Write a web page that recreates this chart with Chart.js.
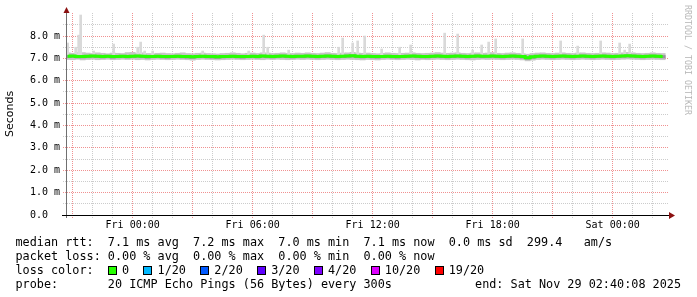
<!DOCTYPE html>
<html>
<head>
<meta charset="utf-8">
<script src="https://cdn.jsdelivr.net/npm/chart.js@4.4.1/dist/chart.umd.min.js"></script>
<style>
  html, body { margin:0; padding:0; background:#fff; }
  #wrap { position:relative; width:697px; height:297px; overflow:hidden; background:#fff; }
  canvas { position:absolute; left:0; top:0; }
  .lg { position:absolute; left:15.5px; margin:0; font-family:"DejaVu Sans Mono", monospace; font-size:11.8px; line-height:14px; color:#000; white-space:pre; }
  .bx { display:inline-block; width:7px; height:7px; border:1px solid #000; margin-right:5.2px; vertical-align:-1px; }
  #endtxt { position:absolute; right:16px; top:276.9px; font-family:"DejaVu Sans Mono", monospace; font-size:11.8px; line-height:14px; color:#000; white-space:pre; }
  #wm { position:absolute; left:693px; top:5px; transform:rotate(90deg); transform-origin:0 0; font-family:"DejaVu Sans Mono", monospace; font-size:8.3px; line-height:10px; color:#b8b8b8; white-space:pre; }
</style>
</head>
<body>
<div id="wrap">
  <canvas id="c" width="697" height="297"></canvas>
  <div id="wm">RRDTOOL / TOBI OETIKER</div>
  <div class="lg" id="legend" style="top:234.9px"></div>
  <div id="endtxt"></div>
</div>
<script>
// ---- data (hours relative to Fri 00:00; one sample per 15 min) ----
const sampleStartHour = -3.25;
const sampleStepHours = 0.25;
const medianRtt = [
7.10,7.11,7.09,7.08,7.10,7.11,7.10,7.09,7.10,7.08,7.09,7.10,
7.09,7.10,7.11,7.10,7.08,7.09,7.10,7.09,7.08,7.09,7.10,7.09,
7.08,7.07,7.09,7.10,7.09,7.08,7.07,7.08,7.09,7.10,7.09,7.08,
7.09,7.10,7.09,7.11,7.10,7.09,7.10,7.11,7.10,7.09,7.10,7.10,
7.11,7.10,7.09,7.10,7.11,7.10,7.09,7.10,7.11,7.12,7.10,7.09,
7.10,7.09,7.08,7.09,7.10,7.09,7.08,7.09,7.10,7.11,7.10,7.09,
7.09,7.10,7.11,7.10,7.09,7.10,7.11,7.10,7.09,7.10,7.11,7.10,
7.10,7.11,7.10,7.09,7.10,7.11,7.10,7.08,7.03,7.07,7.10,7.11,
7.10,7.09,7.10,7.11,7.10,7.09,7.10,7.11,7.10,7.09,7.10,7.11,
7.10,7.09,7.10,7.11,7.12,7.11,7.10,7.09,7.10,7.11,7.10,7.09];
const smokeMax = [
7.25,7.23,7.27,7.26,7.24,7.22,7.25,7.23,7.21,7.24,7.23,7.22,
7.26,7.27,7.23,7.25,7.22,7.21,7.23,7.24,7.22,7.21,7.23,7.25,
7.22,7.21,7.23,7.24,7.22,7.21,7.20,7.22,7.23,7.25,7.23,7.21,
7.23,7.24,7.22,7.25,7.24,7.22,7.23,7.25,7.23,7.22,7.24,7.23,
7.25,7.23,7.22,7.24,7.26,7.23,7.22,7.24,7.25,7.27,7.24,7.23,
7.24,7.22,7.21,7.23,7.25,7.23,7.22,7.23,7.24,7.25,7.23,7.22,
7.23,7.24,7.26,7.24,7.23,7.24,7.25,7.23,7.22,7.24,7.25,7.23,
7.24,7.26,7.23,7.22,7.24,7.25,7.23,7.21,7.19,7.22,7.24,7.25,
7.23,7.22,7.24,7.25,7.23,7.22,7.24,7.25,7.23,7.22,7.23,7.25,
7.24,7.22,7.23,7.25,7.27,7.25,7.23,7.22,7.23,7.25,7.23,7.22];
const smokeMin = [
6.95,6.94,6.96,6.93,6.95,6.96,6.94,6.95,6.96,6.94,6.95,6.96,
6.95,6.96,6.94,6.95,6.93,6.95,6.96,6.95,6.94,6.95,6.96,6.95,
6.94,6.92,6.95,6.96,6.95,6.94,6.93,6.94,6.95,6.96,6.95,6.94,
6.95,6.96,6.95,6.94,6.96,6.95,6.96,6.95,6.94,6.95,6.96,6.95,
6.96,6.95,6.94,6.95,6.96,6.95,6.94,6.95,6.96,6.95,6.94,6.93,
6.95,6.94,6.93,6.95,6.96,6.95,6.94,6.95,6.96,6.95,6.93,6.95,
6.94,6.95,6.96,6.95,6.94,6.95,6.96,6.95,6.94,6.93,6.95,6.96,
6.95,6.96,6.95,6.94,6.95,6.96,6.95,6.93,6.89,6.92,6.95,6.96,
6.95,6.94,6.95,6.96,6.95,6.94,6.95,6.96,6.95,6.94,6.95,6.96,
6.95,6.94,6.95,6.96,6.97,6.96,6.95,6.94,6.95,6.96,6.95,6.94];
const smokeQ1 = [
7.03,7.04,7.02,7.02,7.03,7.05,7.04,7.02,7.04,7.01,7.03,7.04,
7.02,7.04,7.05,7.03,7.01,7.03,7.04,7.02,7.01,7.03,7.04,7.02,
7.01,7.00,7.03,7.04,7.02,7.01,7.00,7.02,7.03,7.04,7.02,7.01,
7.03,7.04,7.02,7.05,7.03,7.02,7.04,7.05,7.03,7.02,7.04,7.03,
7.05,7.03,7.02,7.04,7.05,7.03,7.02,7.04,7.05,7.06,7.03,7.02,
7.04,7.02,7.01,7.03,7.04,7.02,7.01,7.03,7.04,7.05,7.03,7.02,
7.02,7.04,7.05,7.03,7.02,7.04,7.05,7.03,7.02,7.04,7.05,7.03,
7.04,7.05,7.03,7.02,7.04,7.05,7.03,7.01,6.96,7.00,7.04,7.05,
7.03,7.02,7.04,7.05,7.03,7.02,7.04,7.05,7.03,7.02,7.04,7.05,
7.03,7.02,7.04,7.05,7.06,7.05,7.03,7.02,7.04,7.05,7.03,7.02];
const smokeQ3 = [
7.14,7.15,7.13,7.12,7.14,7.15,7.14,7.13,7.14,7.12,7.13,7.14,
7.13,7.14,7.15,7.14,7.12,7.13,7.14,7.13,7.12,7.13,7.14,7.13,
7.12,7.11,7.13,7.14,7.13,7.12,7.11,7.12,7.13,7.14,7.13,7.12,
7.13,7.14,7.13,7.15,7.14,7.13,7.14,7.15,7.14,7.13,7.14,7.14,
7.15,7.14,7.13,7.14,7.15,7.14,7.13,7.14,7.15,7.16,7.14,7.13,
7.14,7.13,7.12,7.13,7.14,7.13,7.12,7.13,7.14,7.15,7.14,7.13,
7.13,7.14,7.15,7.14,7.13,7.14,7.15,7.14,7.13,7.14,7.15,7.14,
7.14,7.15,7.14,7.13,7.14,7.15,7.14,7.12,7.08,7.11,7.14,7.15,
7.14,7.13,7.14,7.15,7.14,7.13,7.14,7.15,7.14,7.13,7.14,7.15,
7.14,7.13,7.14,7.15,7.16,7.15,7.14,7.13,7.14,7.15,7.14,7.13];
// individual high ping spikes in the smoke
const spikeHours = [-3.25,-2.85,-2.7,-2.6,-1.95,-0.95,0.25,0.4,0.6,1.0,3.5,5.8,6.55,6.75,7.8,10.3,10.5,11.0,11.25,11.6,12.45,13.35,13.9,15.6,16.25,17.0,17.45,17.8,18.15,19.5,21.4,22.25,23.4,24.35,24.6,24.85];
const spikeMax   = [7.69,7.50,8.04,8.94,7.33,7.64,7.50,7.73,7.33,7.33,7.33,7.33,8.04,7.50,7.37,7.50,7.91,7.69,7.78,8.00,7.42,7.50,7.60,8.13,8.09,7.37,7.60,7.73,7.87,7.87,7.78,7.55,7.78,7.69,7.37,7.64];
const spikeBase = 7.15;
// axes
const xStartHour = -3.3333, xEndHour = 26.6667;
const xGridHours = [-3,-2,-1,0,1,2,3,4,5,6,7,8,9,10,11,12,13,14,15,16,17,18,19,20,21,22,23,24,25,26];
const xMajorHours = [-3,0,3,6,9,12,15,18,21,24];
const xTickHours = [0, 6, 12, 18, 24];
const xTickLabels = ['Fri 00:00', 'Fri 06:00', 'Fri 12:00', 'Fri 18:00', 'Sat 00:00'];
const yGridValues = [0.5,1,1.5,2,2.5,3,3.5,4,4.5,5,5.5,6,6.5,7,7.5,8,8.5];
const yTickValues = [0,1,2,3,4,5,6,7,8];
const yTickLabels = ['0.0  ','1.0 m','2.0 m','3.0 m','4.0 m','5.0 m','6.0 m','7.0 m','8.0 m'];
const yMax = 9.03;
// legend
const lossLabels = ['0','1/20','2/20','3/20','4/20','10/20','19/20'];
const lossColors = ['#26ff00','#00b8ff','#0059ff','#5e00ff','#7e00ff','#dd00ff','#ff0000'];
const legendLines = [
  'median rtt:  7.1 ms avg  7.2 ms max  7.0 ms min  7.1 ms now  0.0 ms sd  299.4   am/s',
  'packet loss: 0.00 % avg  0.00 % max  0.00 % min  0.00 % now'
];
const probeText = 'probe:       20 ICMP Echo Pings (56 Bytes) every 300s';
const endText = 'end: Sat Nov 29 02:40:08 2025';

// ---- legend html ----
(function(){
  const lg = document.getElementById('legend');
  let html = legendLines.join('\n') + '\nloss color:  ';
  html += lossLabels.map((l,i)=>'<span class="bx" style="background:'+lossColors[i]+'"></span>'+l).join('  ');
  html += '\n' + probeText;
  lg.innerHTML = html;
  document.getElementById('endtxt').textContent = endText;
})();

const times = medianRtt.map((_, i) => sampleStartHour + i * sampleStepHours);
const RED = 'rgb(240,145,145)';
const GREY = 'rgb(204,204,204)';

// dotted rrdtool-style grid, positioned through the chart's own scales
const gridPlugin = {
  id: 'rrdGrid',
  beforeDatasetsDraw(chart) {
    const {ctx, chartArea: a, scales: {x, y}} = chart;
    const top = Math.round(a.top), bot = Math.round(a.bottom), L = Math.round(a.left), R = Math.round(a.right);
    ctx.save();
    xGridHours.forEach(h => {
      const px = Math.floor(x.getPixelForValue(h));
      ctx.fillStyle = xMajorHours.includes(h) ? RED : GREY;
      for (let py = top; py < bot + 3; py += 2) ctx.fillRect(px, py, 1, 1);
    });
    yGridValues.forEach(v => {
      const py = Math.floor(y.getPixelForValue(v));
      ctx.fillStyle = Number.isInteger(v) ? RED : GREY;
      for (let px = L - 3; px < R + 3; px += 2) ctx.fillRect(px, py, 1, 1);
    });
    ctx.restore();
  }
};

const axisPlugin = {
  id: 'rrdAxes',
  afterDraw(chart) {
    const {ctx, chartArea: a} = chart;
    ctx.save();
    ctx.lineWidth = 1;
    ctx.strokeStyle = '#707070';
    ctx.beginPath(); ctx.moveTo(a.left + 0.5, a.top - 3); ctx.lineTo(a.left + 0.5, a.bottom + 3); ctx.stroke();
    ctx.strokeStyle = '#000';
    ctx.beginPath(); ctx.moveTo(a.left - 4, a.bottom + 0.5); ctx.lineTo(a.right + 4, a.bottom + 0.5); ctx.stroke();
    ctx.fillStyle = '#8b1010';
    ctx.beginPath(); ctx.moveTo(a.right + 3, a.bottom - 3); ctx.lineTo(a.right + 9, a.bottom + 0.5); ctx.lineTo(a.right + 3, a.bottom + 4); ctx.closePath(); ctx.fill();
    ctx.beginPath(); ctx.moveTo(a.left - 2.5, a.top); ctx.lineTo(a.left + 0.5, a.top - 6); ctx.lineTo(a.left + 3.5, a.top); ctx.closePath(); ctx.fill();
    ctx.restore();
  }
};

new Chart(document.getElementById('c'), {
  type: 'bar',
  data: {
    datasets: [
      { type: 'line', label: 'median', order: 0,
        data: times.map((t, i) => ({x: t, y: medianRtt[i]})),
        borderColor: '#26ff00', borderWidth: 3, pointRadius: 0, stepped: 'middle', fill: false },
      { type: 'bar', label: 'smoke inner', order: 1, grouped: false,
        data: times.map((t, i) => ({x: t, y: [smokeQ1[i], smokeQ3[i]]})),
        backgroundColor: '#959595', barThickness: 5.2 },
      { type: 'bar', label: 'spikes', order: 2, grouped: false,
        data: spikeHours.map((t, i) => ({x: t, y: [spikeBase, spikeMax[i]]})),
        backgroundColor: '#d9d9d9', barThickness: 2 },
      { type: 'bar', label: 'smoke outer', order: 3, grouped: false,
        data: times.map((t, i) => ({x: t, y: [smokeMin[i], smokeMax[i]]})),
        backgroundColor: '#c6c6c6', barThickness: 5.2 }
    ]
  },
  options: {
    responsive: false, animation: false, devicePixelRatio: 1,
    layout: { padding: { top: 13, right: 31, bottom: 0, left: 0 } },
    plugins: { legend: { display: false }, tooltip: { enabled: false } },
    scales: {
      x: {
        type: 'linear', min: xStartHour, max: xEndHour, offset: false,
        afterBuildTicks: s => { s.ticks = xTickHours.map(v => ({value: v})); },
        afterFit: s => { s.height = 82; },
        ticks: {
          autoSkip: false, maxRotation: 0, padding: 4, color: '#000',
          font: { family: 'DejaVu Sans Mono', size: 10 },
          callback: v => { const k = xTickHours.indexOf(v); return k >= 0 ? xTickLabels[k] : ''; }
        },
        grid: { display: false, drawTicks: false, offset: false },
        border: { display: false }
      },
      y: {
        min: 0, max: yMax,
        afterBuildTicks: s => { s.ticks = yTickValues.map(v => ({value: v})); },
        afterFit: s => { s.width = 66; },
        ticks: {
          autoSkip: false, padding: 6, color: '#000',
          font: { family: 'DejaVu Sans Mono', size: 10 },
          callback: v => { const k = yTickValues.indexOf(v); return k >= 0 ? yTickLabels[k] : ''; }
        },
        grid: { display: false, drawTicks: false },
        border: { display: false },
        title: { display: true, text: 'Seconds', color: '#000', font: { family: 'DejaVu Sans', size: 11 }, padding: { top: 4, bottom: 0 } }
      }
    }
  },
  plugins: [gridPlugin, axisPlugin]
});
</script>
</body>
</html>
